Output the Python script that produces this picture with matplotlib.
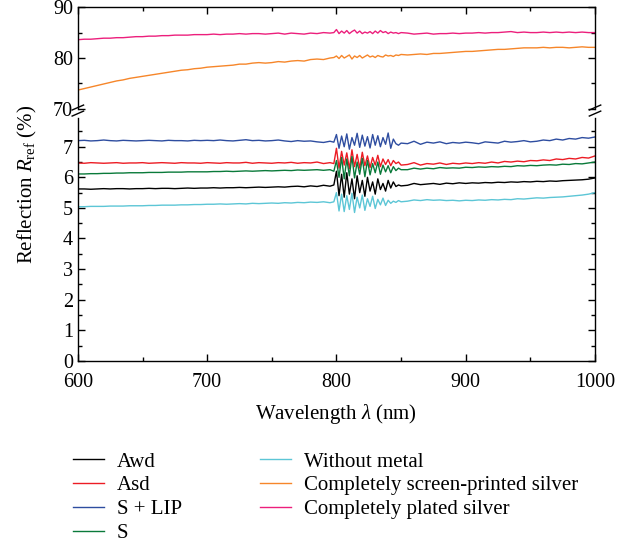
import numpy as np
import matplotlib
matplotlib.use("Agg")
import matplotlib.pyplot as plt
from matplotlib.lines import Line2D
from matplotlib.ticker import MultipleLocator

plt.rcParams["font.family"] = ["Liberation Serif", "DejaVu Serif"]
plt.rcParams["mathtext.fontset"] = "custom"
plt.rcParams["mathtext.rm"] = "Liberation Serif"
plt.rcParams["mathtext.it"] = "Liberation Serif:italic"

# wavelength grid: 5 nm steps, 2 nm inside the noisy 800-850 nm band
wavelength = np.concatenate([np.arange(600, 796, 5), np.arange(798, 851, 2), np.arange(855, 1001, 5)])

plated = [83.6, 83.7, 83.7, 83.8, 83.9, 83.9, 84.0, 84.0, 84.1, 84.2,
          84.2, 84.3, 84.3, 84.4, 84.4, 84.5, 84.5, 84.5, 84.6, 84.6,
          84.6, 84.7, 84.6, 84.7, 84.7, 84.8, 84.7, 84.8, 84.8, 84.7,
          84.8, 84.9, 84.7, 84.9, 84.8, 84.7, 84.9, 84.8, 85.0, 84.9,
          85.0, 85.6, 84.8, 85.3, 84.9, 85.4, 84.8, 85.2, 85.5, 84.9, 85.3, 84.8, 85.1, 84.9,
          85.2, 84.8, 85.3, 84.9, 85.4, 85.0, 85.2, 84.8, 85.1, 84.9, 85.0, 84.8, 85.0,
          84.9, 84.7, 84.8, 84.9, 84.7, 84.8, 84.8, 84.9, 84.8, 84.9,
          84.9, 85.0, 84.9, 85.0, 85.0, 85.1, 85.2, 85.0, 85.1, 85.0,
          85.0, 85.1, 85.0, 85.1, 85.0, 85.1, 85.0, 85.1, 85.0, 85.0]

screen_printed = [73.7, 74.0, 74.3, 74.6, 74.9, 75.2, 75.5, 75.7, 76.0, 76.2,
                  76.4, 76.6, 76.8, 77.0, 77.2, 77.4, 77.6, 77.7, 77.9, 78.0,
                  78.2, 78.3, 78.4, 78.5, 78.6, 78.8, 78.8, 79.0, 79.1, 79.0,
                  79.1, 79.3, 79.2, 79.4, 79.5, 79.4, 79.7, 79.8, 79.7, 80.0,
                  80.1, 80.4, 79.9, 80.5, 80.0, 80.3, 80.6, 79.8, 80.4, 80.1, 80.5, 80.0, 80.3, 80.6,
                  80.2, 80.4, 80.1, 80.5, 80.3, 80.2, 80.6, 80.4, 80.5, 80.3, 80.6, 80.5, 80.7,
                  80.6, 80.7, 80.8, 80.7, 80.9, 80.9, 81.0, 81.1, 81.2, 81.3,
                  81.3, 81.4, 81.5, 81.6, 81.7, 81.7, 81.8, 81.9, 82.0, 82.0,
                  82.0, 82.1, 82.0, 82.1, 82.1, 82.0, 82.1, 82.2, 82.1, 82.1]

s_lip = [7.20, 7.21, 7.19, 7.20, 7.22, 7.20, 7.19, 7.21, 7.20, 7.19,
         7.20, 7.21, 7.20, 7.19, 7.21, 7.20, 7.20, 7.19, 7.21, 7.20,
         7.21, 7.20, 7.22, 7.20, 7.19, 7.21, 7.23, 7.20, 7.21, 7.19,
         7.20, 7.22, 7.19, 7.17, 7.20, 7.18, 7.19, 7.16, 7.14, 7.18,
         7.15, 7.40, 6.95, 7.35, 7.00, 7.42, 6.92, 7.30, 7.05, 7.44, 6.98, 7.38, 7.02, 7.33,
         6.96, 7.40, 7.05, 7.36, 7.00, 7.30, 7.08, 7.45, 6.95, 7.25, 7.10, 7.05, 7.12,
         7.10, 7.18, 7.08, 7.15, 7.12, 7.16, 7.10, 7.14, 7.12, 7.15,
         7.13, 7.10, 7.16, 7.14, 7.12, 7.18, 7.15, 7.17, 7.20, 7.16,
         7.18, 7.22, 7.20, 7.25, 7.22, 7.27, 7.25, 7.30, 7.28, 7.32]

asd = [6.47, 6.46, 6.48, 6.47, 6.46, 6.47, 6.48, 6.46, 6.47, 6.47,
       6.48, 6.46, 6.47, 6.48, 6.47, 6.46, 6.48, 6.47, 6.47, 6.46,
       6.48, 6.47, 6.46, 6.48, 6.47, 6.47, 6.49, 6.46, 6.48, 6.47,
       6.46, 6.48, 6.47, 6.49, 6.46, 6.48, 6.47, 6.50, 6.45, 6.48,
       6.45, 6.95, 6.30, 6.85, 6.40, 6.80, 6.28, 6.90, 6.35, 6.75, 6.30, 6.82, 6.38, 6.70,
       6.32, 6.65, 6.40, 6.72, 6.35, 6.60, 6.42, 6.58, 6.38, 6.55, 6.45, 6.50, 6.40,
       6.42, 6.48, 6.40, 6.45, 6.43, 6.47, 6.42, 6.46, 6.44, 6.47,
       6.45, 6.48, 6.46, 6.50, 6.47, 6.52, 6.50, 6.53, 6.51, 6.55,
       6.54, 6.57, 6.55, 6.60, 6.58, 6.62, 6.60, 6.65, 6.63, 6.70]

s_only = [6.11, 6.11, 6.12, 6.12, 6.13, 6.13, 6.14, 6.14, 6.15, 6.15,
          6.15, 6.16, 6.16, 6.16, 6.17, 6.17, 6.17, 6.18, 6.18, 6.18,
          6.18, 6.19, 6.19, 6.20, 6.19, 6.20, 6.21, 6.20, 6.21, 6.22,
          6.21, 6.22, 6.23, 6.22, 6.24, 6.23, 6.24, 6.25, 6.23, 6.25,
          6.20, 6.55, 6.00, 6.65, 5.95, 6.60, 6.05, 6.68, 5.98, 6.50, 6.10, 6.62, 6.02, 6.55,
          6.08, 6.45, 6.15, 6.50, 6.10, 6.40, 6.18, 6.38, 6.15, 6.35, 6.22, 6.30, 6.25,
          6.25, 6.30, 6.27, 6.30, 6.28, 6.32, 6.30, 6.31, 6.30, 6.33,
          6.32, 6.34, 6.33, 6.35, 6.34, 6.36, 6.35, 6.38, 6.37, 6.39,
          6.38, 6.40, 6.41, 6.40, 6.43, 6.42, 6.45, 6.44, 6.47, 6.50]

awd = [5.62, 5.62, 5.61, 5.62, 5.63, 5.62, 5.63, 5.63, 5.62, 5.63,
       5.63, 5.64, 5.63, 5.64, 5.64, 5.63, 5.64, 5.65, 5.64, 5.65,
       5.65, 5.66, 5.65, 5.66, 5.66, 5.67, 5.66, 5.67, 5.68, 5.67,
       5.68, 5.69, 5.68, 5.70, 5.71, 5.69, 5.72, 5.70, 5.74, 5.71,
       5.75, 6.20, 5.40, 6.10, 5.35, 6.15, 5.45, 5.95, 5.30, 6.05, 5.50, 5.90, 5.38, 6.00,
       5.55, 5.85, 5.45, 5.95, 5.60, 5.80, 5.55, 5.90, 5.65, 5.85, 5.70, 5.75, 5.72,
       5.74, 5.80, 5.76, 5.78, 5.80, 5.77, 5.81, 5.79, 5.82, 5.80,
       5.82, 5.81, 5.83, 5.82, 5.84, 5.83, 5.85, 5.84, 5.86, 5.85,
       5.87, 5.86, 5.88, 5.87, 5.89, 5.90, 5.91, 5.92, 5.94, 5.98]

no_metal = [5.04, 5.04, 5.05, 5.05, 5.05, 5.06, 5.06, 5.06, 5.07, 5.07,
            5.07, 5.08, 5.08, 5.09, 5.09, 5.09, 5.10, 5.10, 5.11, 5.11,
            5.12, 5.12, 5.13, 5.12, 5.13, 5.14, 5.13, 5.15, 5.14, 5.15,
            5.16, 5.15, 5.17, 5.16, 5.18, 5.17, 5.19, 5.18, 5.20, 5.17,
            5.20, 5.50, 4.90, 5.45, 4.88, 5.40, 4.95, 5.48, 4.85, 5.35, 5.00, 5.42, 4.92, 5.30,
            5.05, 5.38, 4.98, 5.28, 5.10, 5.32, 5.08, 5.25, 5.15, 5.22, 5.18, 5.24, 5.20,
            5.22, 5.26, 5.24, 5.27, 5.25, 5.26, 5.24, 5.25, 5.23, 5.25,
            5.24, 5.26, 5.25, 5.27, 5.26, 5.28, 5.27, 5.30, 5.29, 5.31,
            5.33, 5.32, 5.34, 5.35, 5.36, 5.38, 5.40, 5.42, 5.45, 5.50]

low_series = [("Awd", awd, "#000000"),
              ("Asd", asd, "#ec1c24"),
              ("S + LIP", s_lip, "#2e4da0"),
              ("S", s_only, "#0a7a3a")]
high_series = [("Without metal", no_metal, "#5cc6d6"),
               ("Completely screen-printed silver", screen_printed, "#f6862a"),
               ("Completely plated silver", plated, "#ec1f7c")]

fig = plt.figure(figsize=(6.33, 5.5), dpi=100)
ax_top = fig.add_axes([0.123, 0.802, 0.817, 0.185])
ax_bot = fig.add_axes([0.123, 0.344, 0.817, 0.442])

lw = 1.0
handles_a = []
handles_b = []
for name, vals, col in low_series:
    ln, = ax_bot.plot(wavelength, vals, color=col, lw=lw, label=name)
    handles_a.append(ln)
ln, = ax_bot.plot(wavelength, no_metal, color=high_series[0][2], lw=lw, label=high_series[0][0])
handles_b.append(ln)
for name, vals, col in high_series[1:]:
    ln, = ax_top.plot(wavelength, vals, color=col, lw=lw, label=name)
    handles_b.append(ln)

ax_top.set_xlim(600, 1000)
ax_bot.set_xlim(600, 1000)
ax_top.set_ylim(70, 90)
ax_bot.set_ylim(0, 7.95)

ax_top.set_yticks([70, 80, 90])
ax_top.yaxis.set_minor_locator(MultipleLocator(5))
ax_bot.set_yticks(range(0, 8))
ax_bot.yaxis.set_minor_locator(MultipleLocator(0.5))
for ax in (ax_top, ax_bot):
    ax.xaxis.set_major_locator(MultipleLocator(100))
    ax.xaxis.set_minor_locator(MultipleLocator(50))
    ax.tick_params(which="both", direction="in", right=True, top=True, labelsize=14.5, width=1.0)
    ax.tick_params(which="major", length=5)
    ax.tick_params(which="minor", length=3)
    for sp in ax.spines.values():
        sp.set_linewidth(1.0)
ax_bot.tick_params(axis="x", which="major", pad=9)

ax_top.spines["bottom"].set_visible(False)
ax_bot.spines["top"].set_visible(False)
ax_top.tick_params(which="both", bottom=False, labelbottom=False)
ax_bot.tick_params(which="both", top=False)

# break marks on both side spines
for xf in (0.123, 0.940):
    for dy in (0.0, 0.011):
        fig.add_artist(Line2D([xf - 0.009, xf + 0.009], [0.789 + dy, 0.798 + dy],
                              color="black", lw=1.0, transform=fig.transFigure))

fig.text(0.044, 0.665, r"Reflection $R_{\mathrm{ref}}$ (%)", rotation=90,
         ha="center", va="center", fontsize=15)
ax_bot.set_xlabel(r"Wavelength $\lambda$ (nm)", fontsize=15, labelpad=7)

fig.legend(handles=handles_a, loc="upper left", bbox_to_anchor=(0.115, 0.178),
           frameon=False, fontsize=15, handlelength=1.5, handletextpad=0.6,
           labelspacing=0.2, borderaxespad=0, borderpad=0)
fig.legend(handles=handles_b, loc="upper left", bbox_to_anchor=(0.411, 0.178),
           frameon=False, fontsize=15, handlelength=1.5, handletextpad=0.6,
           labelspacing=0.2, borderaxespad=0, borderpad=0)

fig.savefig("out.png", dpi=100)
